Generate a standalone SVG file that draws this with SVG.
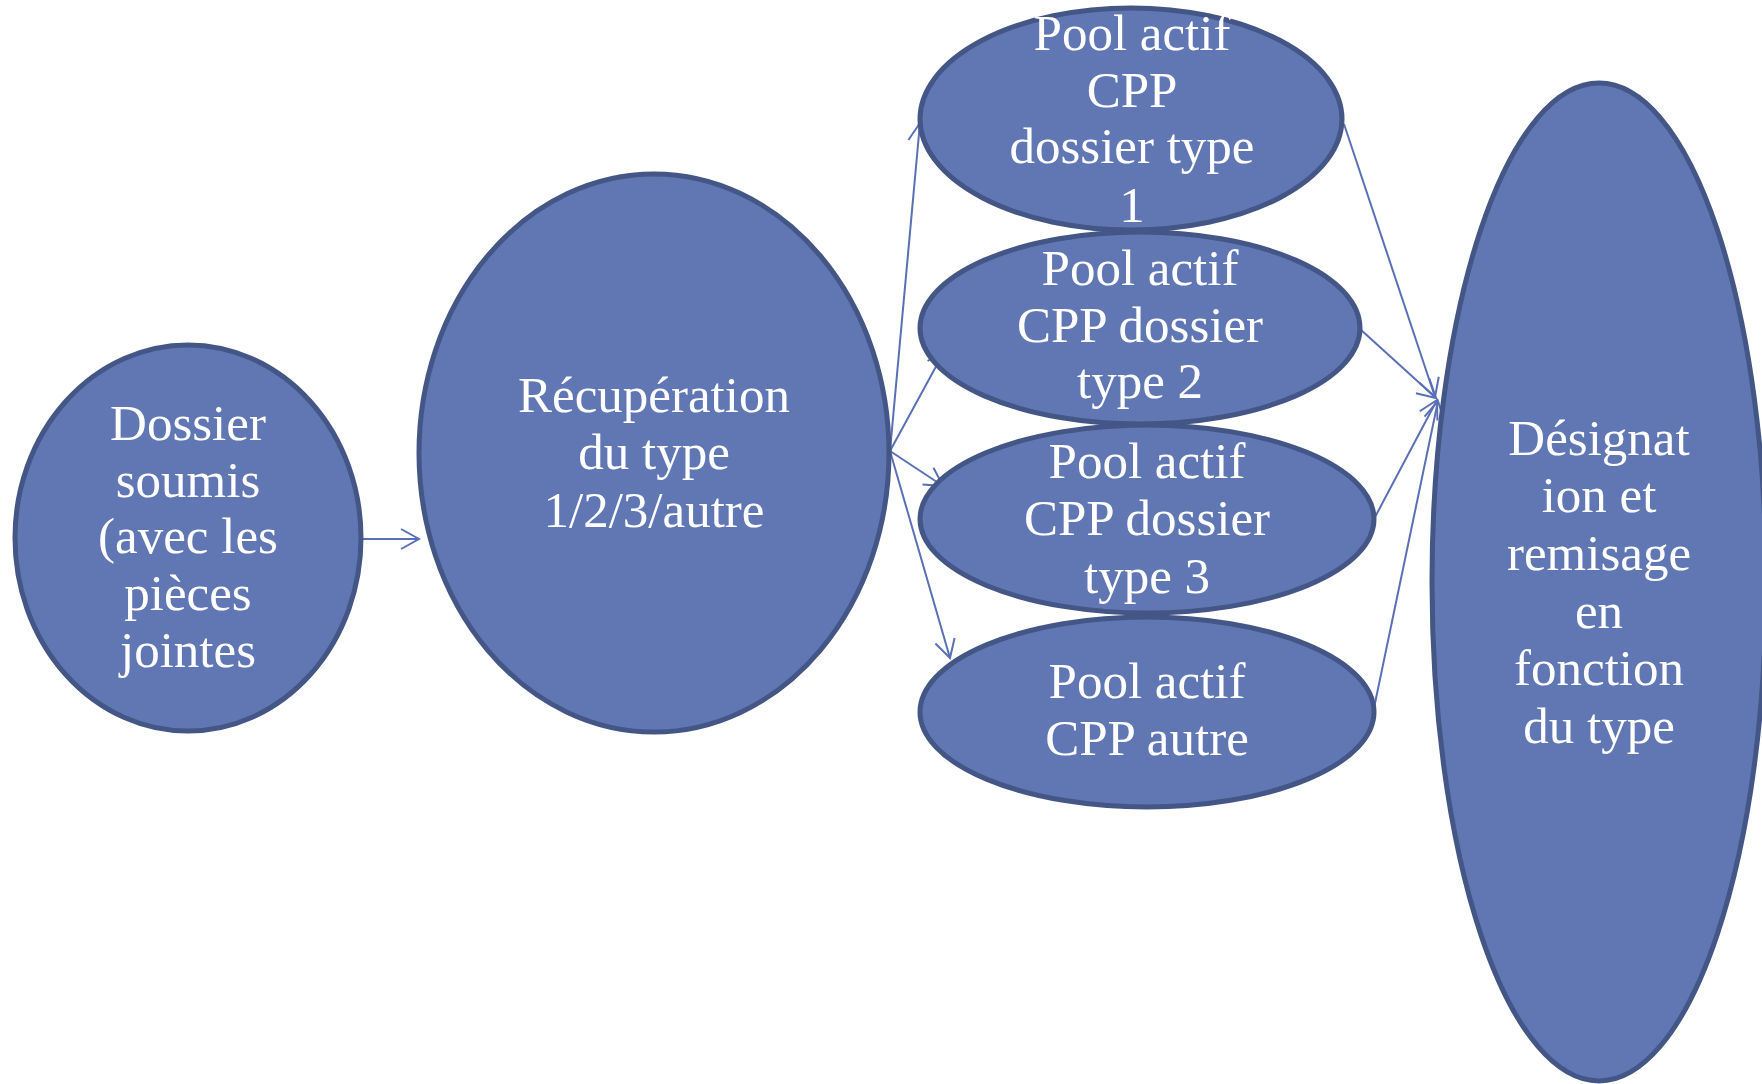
<svg xmlns="http://www.w3.org/2000/svg" width="1762" height="1084" viewBox="0 0 1762 1084">
  <style>
    .node { fill: #6077b4; stroke: #435686; stroke-width: 5; }
    .lbl { font-family: "Liberation Serif", "Times New Roman", serif; font-size: 51px; fill: #ffffff; text-anchor: middle; }
    .edge { stroke: #5a70b5; stroke-width: 2; fill: none; marker-end: url(#arrow); }
  </style>
  <defs>
    <marker id="arrow" markerUnits="userSpaceOnUse" markerWidth="24" markerHeight="24" viewBox="-20 -12 24 24" refX="0" refY="0" orient="auto">
      <path d="M -18 -10 L 0 0 L -18 10" fill="none" stroke="#5a70b5" stroke-width="2"/>
    </marker>
  </defs>
  <rect width="1762" height="1084" fill="#ffffff"/>

  <!-- connectors -->
  <g id="connectors">
    <line class="edge" x1="362" y1="539" x2="419" y2="539"/>
    <line class="edge" x1="890" y1="451" x2="920" y2="123"/>
    <line class="edge" x1="890" y1="451" x2="945" y2="350"/>
    <line class="edge" x1="890" y1="451" x2="943" y2="486"/>
    <line class="edge" x1="890" y1="451" x2="950" y2="658"/>
    <line class="edge" x1="1344" y1="124" x2="1435" y2="397"/>
    <line class="edge" x1="1360" y1="329" x2="1436" y2="398"/>
    <line class="edge" x1="1374" y1="519" x2="1437" y2="400"/>
    <line class="edge" x1="1374" y1="708" x2="1438" y2="401"/>
  </g>

  <!-- start: submitted file -->
  <g id="node-dossier">
    <ellipse class="node" cx="188" cy="538" rx="173" ry="193"/>
    <text class="lbl" x="188" y="440">Dossier</text>
    <text class="lbl" x="188" y="497">soumis</text>
    <text class="lbl" x="188" y="553">(avec les</text>
    <text class="lbl" x="188" y="610">pièces</text>
    <text class="lbl" x="188" y="667">jointes</text>
  </g>

  <!-- type retrieval -->
  <g id="node-recuperation">
    <ellipse class="node" cx="654" cy="453" rx="235" ry="279"/>
    <text class="lbl" x="654" y="412">Récupération</text>
    <text class="lbl" x="654" y="469">du type</text>
    <text class="lbl" x="654" y="527">1/2/3/autre</text>
  </g>

  <!-- active pools -->
  <g id="node-pool1">
    <ellipse class="node" cx="1131" cy="119" rx="211" ry="111"/>
    <text class="lbl" x="1132" y="50">Pool actif</text>
    <text class="lbl" x="1132" y="107">CPP</text>
    <text class="lbl" x="1132" y="163">dossier type</text>
    <text class="lbl" x="1132" y="222">1</text>
  </g>

  <g id="node-pool2">
    <ellipse class="node" cx="1140" cy="328" rx="220" ry="96"/>
    <text class="lbl" x="1140" y="285">Pool actif</text>
    <text class="lbl" x="1140" y="342">CPP dossier</text>
    <text class="lbl" x="1140" y="398">type 2</text>
  </g>

  <g id="node-pool3">
    <ellipse class="node" cx="1147" cy="519" rx="227" ry="94"/>
    <text class="lbl" x="1147" y="478">Pool actif</text>
    <text class="lbl" x="1147" y="535">CPP dossier</text>
    <text class="lbl" x="1147" y="593">type 3</text>
  </g>

  <g id="node-pool4">
    <ellipse class="node" cx="1147" cy="712" rx="227" ry="95"/>
    <text class="lbl" x="1147" y="698">Pool actif</text>
    <text class="lbl" x="1147" y="755">CPP autre</text>
  </g>

  <!-- designation and storage -->
  <g id="node-designation">
    <ellipse class="node" cx="1599" cy="582" rx="167" ry="499"/>
    <text class="lbl" x="1599" y="455">Désignat</text>
    <text class="lbl" x="1599" y="512">ion et</text>
    <text class="lbl" x="1599" y="570">remisage</text>
    <text class="lbl" x="1599" y="628">en</text>
    <text class="lbl" x="1599" y="685">fonction</text>
    <text class="lbl" x="1599" y="743">du type</text>
  </g>
</svg>
